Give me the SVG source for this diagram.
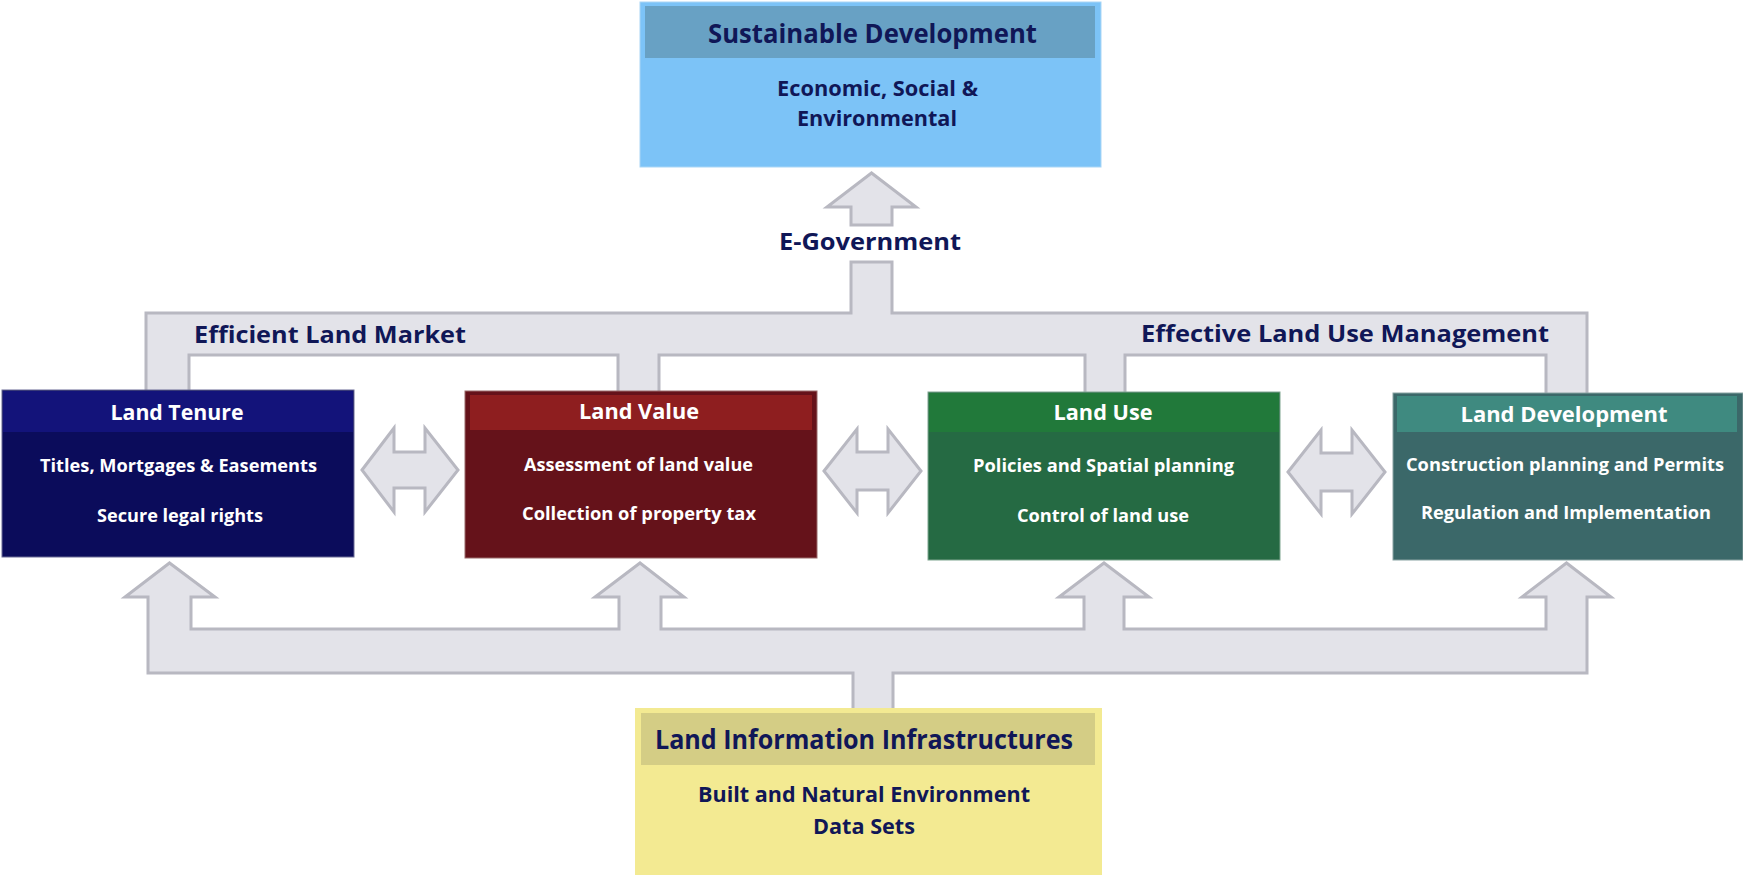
<svg xmlns="http://www.w3.org/2000/svg" width="1743" height="876" viewBox="0 0 1743 876">
<style>
text{font-family:"Open Sans","Liberation Sans",sans-serif;font-weight:700;text-anchor:middle}
.conn{fill:#e3e3e9;stroke:#b8b8c1;stroke-width:3;stroke-linejoin:miter}
.navy{fill:#101757}
.w{fill:#ffffff}
.h1{font-size:27px}
.h2{font-size:22px}
.b{font-size:18px}
.lbl{font-size:24px}
</style>
<rect width="1743" height="876" fill="#ffffff"/>
<g id="connectors">
<polygon class="conn" points="871.5,173 827,207 851,207 851,225 892,225 892,207 916,207"/>
<polygon class="conn" points="146,400 146,313 851,313 851,262 892,262 892,313 1587,313 1587,400 1546,400 1546,355 1125,355 1125,400 1085,400 1085,355 659,355 659,400 618,400 618,355 189,355 189,400"/>
<polygon class="conn" points="853,720 853,673 148,673 148,597 125,597 169.5,563 215,597 191,597 191,629 619,629 619,597 595,597 640,563 684,597 661,597 661,629 1084,629 1084,597 1059,597 1104,563 1149,597 1124,597 1124,629 1546,629 1546,597 1522,597 1566.5,563 1611,597 1587,597 1587,673 893,673 893,720"/>
<polygon class="conn" points="362,470 394,428 394,452 425,452 425,428 458,470 425,512 425,488 394,488 394,512"/>
<polygon class="conn" points="824,471 857,429 857,452 888,452 888,429 921,471 888,513 888,490 857,490 857,513"/>
<polygon class="conn" points="1288,472 1321,430 1321,453 1352,453 1352,430 1385,472 1352,514 1352,491 1321,491 1321,514"/>
</g>
<g id="lbl-egov"><text class="navy lbl" x="870" y="250" font-size="25" textLength="182" lengthAdjust="spacingAndGlyphs">E-Government</text></g>
<g id="lbl-market"><text class="navy lbl" x="330" y="343" textLength="272" lengthAdjust="spacingAndGlyphs">Efficient Land Market</text></g>
<g id="lbl-landuse"><text class="navy lbl" x="1345" y="342" textLength="408" lengthAdjust="spacingAndGlyphs">Effective Land Use Management</text></g>

<g id="sustainable-development">
<rect x="640" y="2" width="461" height="165" fill="#7cc3f7" stroke="#a9d6f6" stroke-width="1"/>
<rect x="645" y="6" width="450" height="52" fill="#68a1c4"/>
<text class="navy h1" x="872.5" y="43" textLength="329" lengthAdjust="spacingAndGlyphs">Sustainable Development</text>
<text class="navy" font-size="21" x="877.5" y="96" textLength="201" lengthAdjust="spacingAndGlyphs">Economic, Social &amp;</text>
<text class="navy" font-size="21" x="877" y="126" textLength="160" lengthAdjust="spacingAndGlyphs">Environmental</text>
</g>

<g id="land-tenure">
<rect x="2" y="390" width="352" height="167" fill="#0b0c5b" stroke="#6b6b95" stroke-width="1"/>
<rect x="3" y="391" width="350" height="41" fill="#13137a"/>
<text class="w h2" x="177" y="420" textLength="133" lengthAdjust="spacingAndGlyphs">Land Tenure</text>
<text class="w b" x="178.5" y="472" textLength="277" lengthAdjust="spacingAndGlyphs">Titles, Mortgages &amp; Easements</text>
<text class="w b" x="180" y="522" textLength="166" lengthAdjust="spacingAndGlyphs">Secure legal rights</text>
</g>

<g id="land-value">
<rect x="465" y="391" width="352" height="167" fill="#65121a" stroke="#9a6a6a" stroke-width="1"/>
<rect x="470" y="395" width="342" height="35" fill="#8e1e1f"/>
<text class="w h2" x="639" y="419" textLength="120" lengthAdjust="spacingAndGlyphs">Land Value</text>
<text class="w b" x="638.5" y="471" textLength="229" lengthAdjust="spacingAndGlyphs">Assessment of land value</text>
<text class="w b" x="639" y="520" textLength="234" lengthAdjust="spacingAndGlyphs">Collection of property tax</text>
</g>

<g id="land-use">
<rect x="928" y="392" width="352" height="168" fill="#256a43" stroke="#7fa58f" stroke-width="1"/>
<rect x="929" y="393" width="350" height="39" fill="#21793a"/>
<text class="w h2" x="1103" y="420" textLength="99" lengthAdjust="spacingAndGlyphs">Land Use</text>
<text class="w b" x="1103.5" y="472" textLength="261" lengthAdjust="spacingAndGlyphs">Policies and Spatial planning</text>
<text class="w b" x="1103" y="522" textLength="172" lengthAdjust="spacingAndGlyphs">Control of land use</text>
</g>

<g id="land-development">
<rect x="1393" y="393" width="350" height="167" fill="#3b6869" stroke="#8aa3a3" stroke-width="1"/>
<rect x="1397" y="396" width="340" height="36" fill="#3f8a80"/>
<text class="w h2" x="1564" y="422" textLength="207" lengthAdjust="spacingAndGlyphs">Land Development</text>
<text class="w b" x="1565" y="471" textLength="318" lengthAdjust="spacingAndGlyphs">Construction planning and Permits</text>
<text class="w b" x="1566" y="519" textLength="290" lengthAdjust="spacingAndGlyphs">Regulation and Implementation</text>
</g>

<g id="land-information">
<rect x="635" y="708" width="467" height="167" fill="#f3ea92"/>
<rect x="641" y="713" width="454" height="52" fill="#d4cd85"/>
<text class="navy" font-size="26" x="864" y="749" textLength="418" lengthAdjust="spacingAndGlyphs">Land Information Infrastructures</text>
<text class="navy" font-size="21" x="864" y="802" textLength="332" lengthAdjust="spacingAndGlyphs">Built and Natural Environment</text>
<text class="navy" font-size="21" x="864" y="834" textLength="102" lengthAdjust="spacingAndGlyphs">Data Sets</text>
</g>
</svg>
